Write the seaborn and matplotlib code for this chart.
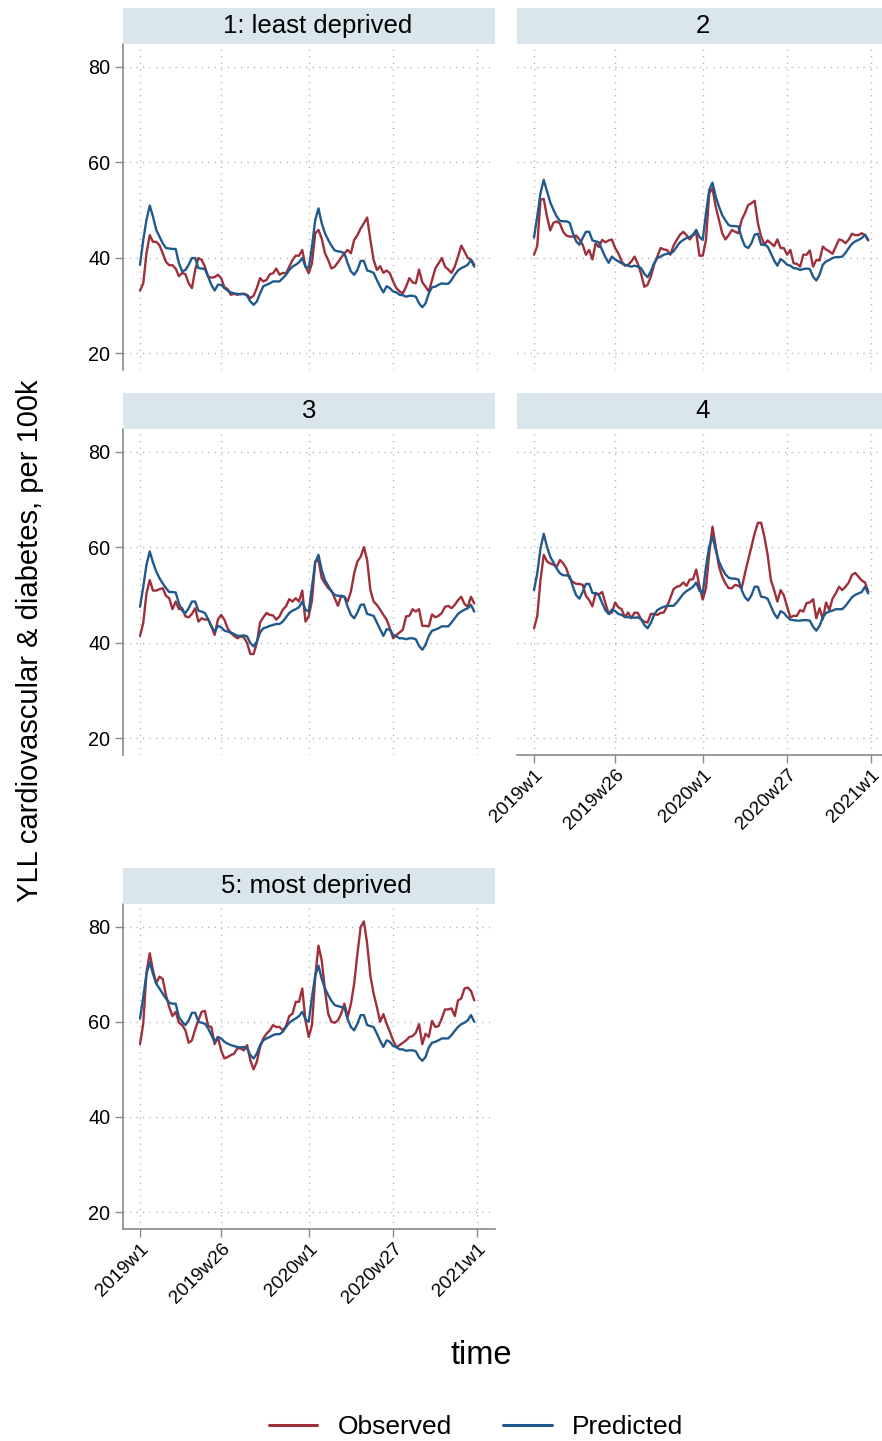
import matplotlib
matplotlib.use("Agg")

import numpy as np
import pandas as pd
import matplotlib.pyplot as plt
import seaborn as sns
from matplotlib.lines import Line2D

# weekly index: 0 = 2019w1 ... 103 = 2020w52
weeks = list(range(104))
tick_pos = [0, 25, 52, 78, 104]
tick_labels = ["2019w1", "2019w26", "2020w1", "2020w27", "2021w1"]
panel_titles = ["1: least deprived", "2", "3", "4", "5: most deprived"]

p1_obs = [33.1, 34.6, 40.9, 44.7, 43.3, 43.3, 42.6, 40.9, 39.1, 38.4,
          38.4, 37.7, 36.1, 36.8, 36.5, 34.6, 33.6, 37.4, 39.9, 39.5,
          38.1, 36.0, 35.8, 35.9, 36.4, 35.7, 33.8, 33.4, 32.2, 32.4,
          32.2, 32.4, 32.4, 32.2, 31.5, 32.0, 33.6, 35.7, 35.0, 35.3,
          36.5, 36.7, 37.7, 36.4, 36.8, 36.7, 38.1, 39.5, 40.4, 40.4,
          41.6, 38.1, 36.7, 38.8, 45.1, 45.8, 44.0, 40.9, 39.5, 37.7,
          38.1, 39.0, 40.0, 40.9, 41.6, 40.9, 43.7, 44.7, 46.1, 47.2,
          48.4, 43.7, 39.5, 37.4, 38.2, 36.8, 37.3, 36.7, 35.0, 33.6,
          32.9, 32.5, 33.9, 35.7, 34.8, 34.6, 37.5, 34.8, 33.9, 32.9,
          35.3, 37.7, 38.8, 39.9, 38.1, 37.5, 36.8, 38.1, 40.2, 42.5,
          41.3, 39.9, 39.6, 38.5]
p1_pred = [38.5, 43.7, 47.9, 50.9, 48.6, 45.8, 44.4, 43.0, 42.0, 41.9,
           41.8, 41.8, 38.8, 37.1, 37.4, 38.5, 39.9, 39.9, 37.8, 37.7,
           37.6, 36.0, 34.3, 33.1, 34.3, 34.3, 33.6, 33.1, 32.7, 32.5,
           32.4, 32.3, 32.4, 32.0, 30.8, 30.1, 30.8, 32.5, 34.0, 34.3,
           34.6, 35.0, 35.0, 35.0, 35.7, 36.4, 37.4, 38.1, 38.5, 39.0,
           39.9, 38.1, 37.8, 42.3, 47.9, 50.3, 47.2, 45.1, 43.7, 42.5,
           41.5, 41.3, 41.2, 40.9, 38.8, 37.1, 36.4, 37.4, 39.3, 39.3,
           37.3, 37.1, 36.8, 35.3, 33.9, 32.7, 34.0, 33.6, 32.9, 32.7,
           32.2, 32.1, 31.8, 32.0, 32.0, 31.8, 30.4, 29.6, 30.4, 32.5,
           33.8, 33.9, 34.3, 34.6, 34.5, 34.5, 35.3, 36.4, 37.3, 37.8,
           38.1, 38.5, 39.5, 38.1]

p2_obs = [40.6, 42.4, 52.1, 52.3, 48.6, 45.7, 47.3, 47.6, 47.1, 45.4,
          44.6, 44.4, 44.4, 44.6, 43.8, 42.7, 40.6, 41.6, 39.6, 43.0,
          42.2, 43.7, 43.2, 43.6, 43.8, 42.0, 40.9, 39.2, 38.3, 38.5,
          39.2, 40.2, 38.7, 36.6, 33.9, 34.3, 36.0, 38.5, 40.2, 42.0,
          41.7, 41.6, 40.6, 42.5, 43.7, 44.8, 45.4, 44.7, 43.8, 44.7,
          45.1, 40.4, 40.4, 43.7, 53.5, 54.5, 50.7, 47.9, 45.1, 43.8,
          44.7, 45.8, 45.4, 45.1, 47.9, 49.3, 51.0, 51.4, 51.9, 47.2,
          44.4, 42.7, 43.6, 43.0, 42.4, 43.8, 42.0, 42.0, 40.6, 41.6,
          38.8, 38.7, 38.1, 40.6, 40.6, 41.5, 38.1, 39.5, 39.4, 42.3,
          41.7, 41.3, 40.8, 42.3, 43.8, 43.6, 43.0, 43.8, 45.0, 44.7,
          44.7, 45.1, 44.7, 43.6]
p2_pred = [44.2, 48.6, 53.5, 56.3, 53.9, 51.6, 50.0, 48.6, 47.7, 47.6,
           47.6, 47.3, 45.1, 43.4, 42.7, 44.1, 45.4, 45.4, 43.6, 43.4,
           43.2, 41.6, 40.1, 38.9, 40.2, 39.6, 39.2, 38.8, 38.5, 38.3,
           38.1, 38.3, 38.1, 37.8, 36.6, 35.9, 37.1, 38.8, 39.9, 40.2,
           40.6, 40.8, 40.8, 41.3, 42.3, 43.2, 43.7, 44.1, 44.3, 44.8,
           45.8, 44.3, 43.7, 49.3, 54.2, 55.7, 52.8, 50.7, 48.9, 47.8,
           46.8, 46.6, 46.6, 46.5, 44.1, 42.4, 42.0, 43.0, 44.8, 45.0,
           42.7, 42.7, 42.3, 40.9, 39.4, 38.3, 39.7, 39.2, 38.5, 38.3,
           37.8, 37.7, 37.4, 37.6, 37.7, 37.6, 36.0, 35.2, 36.4, 38.5,
           39.2, 39.5, 39.9, 40.1, 40.1, 40.2, 41.0, 42.0, 42.9, 43.4,
           43.7, 44.1, 44.8, 43.7]

p3_obs = [41.4, 44.1, 50.3, 53.1, 50.9, 50.9, 51.2, 51.4, 49.8, 49.3,
          47.0, 48.6, 47.0, 47.2, 45.5, 45.3, 46.0, 47.2, 44.4, 45.1,
          44.8, 44.9, 43.4, 41.6, 44.8, 45.8, 44.8, 43.0, 42.0, 41.4,
          40.9, 41.3, 41.1, 39.9, 37.6, 37.6, 39.9, 44.2, 45.3, 46.2,
          45.8, 45.7, 44.8, 45.5, 46.9, 47.6, 49.1, 48.6, 49.3, 48.6,
          50.9, 44.4, 45.5, 48.9, 57.0, 57.3, 53.5, 52.4, 51.4, 50.9,
          49.3, 47.7, 49.8, 49.6, 48.6, 50.7, 54.5, 57.0, 58.0, 60.0,
          57.3, 51.0, 48.6, 47.9, 46.9, 45.8, 44.8, 43.0, 40.9, 41.6,
          42.1, 42.7, 45.5, 45.6, 47.0, 46.5, 47.0, 43.5, 43.5, 43.4,
          45.9, 45.3, 45.6, 46.2, 47.5, 47.7, 47.2, 47.9, 48.9, 49.6,
          48.1, 47.5, 49.6, 48.2]
p3_pred = [47.5, 51.7, 56.3, 59.1, 56.8, 54.9, 53.5, 52.4, 51.4, 50.6,
           50.6, 50.5, 48.2, 46.7, 46.2, 47.2, 48.6, 48.6, 46.7, 46.5,
           46.2, 44.9, 43.4, 42.3, 43.5, 43.2, 42.5, 42.3, 42.1, 41.8,
           41.4, 41.4, 41.5, 41.3, 39.9, 39.2, 40.2, 42.1, 43.0, 43.2,
           43.5, 43.7, 43.9, 43.9, 44.4, 45.3, 46.2, 46.7, 47.0, 47.4,
           48.6, 46.9, 46.5, 51.7, 56.8, 58.4, 55.2, 53.1, 51.9, 50.7,
           50.0, 49.8, 49.8, 49.6, 47.5, 45.8, 45.1, 46.3, 47.9, 48.0,
           46.0, 45.8, 45.6, 44.2, 42.8, 41.4, 42.8, 42.7, 41.6, 41.3,
           40.9, 40.9, 40.7, 40.9, 40.9, 40.7, 39.3, 38.5, 39.5, 41.4,
           42.5, 42.7, 43.0, 43.4, 43.4, 43.4, 44.2, 45.1, 46.0, 46.5,
           46.9, 47.2, 47.9, 46.5]

p4_obs = [43.0, 45.5, 53.1, 58.4, 57.0, 56.6, 56.3, 55.9, 57.3, 56.6,
          55.5, 53.4, 52.7, 52.3, 52.3, 52.1, 49.8, 48.9, 47.6, 50.4,
          50.1, 50.6, 48.3, 46.0, 46.3, 48.4, 47.4, 47.0, 45.3, 46.3,
          45.1, 46.3, 46.2, 44.9, 44.4, 44.2, 46.0, 46.0, 45.8, 46.2,
          46.3, 47.6, 49.3, 51.2, 51.7, 51.9, 52.6, 51.9, 53.2, 53.3,
          55.3, 51.8, 49.0, 51.4, 58.7, 64.3, 60.1, 55.9, 53.8, 52.4,
          51.4, 51.4, 52.1, 51.9, 51.4, 54.5, 57.3, 60.1, 62.9, 65.1,
          65.1, 62.2, 58.4, 53.1, 51.0, 48.6, 51.0, 49.9, 47.5, 45.3,
          45.6, 45.6, 46.8, 46.5, 48.3, 48.4, 49.1, 45.1, 47.2, 44.9,
          48.4, 46.8, 49.2, 50.3, 51.7, 51.0, 51.7, 52.6, 54.2, 54.6,
          53.8, 53.0, 52.6, 50.7]
p4_pred = [51.0, 54.5, 59.7, 62.8, 60.1, 58.0, 56.8, 55.5, 54.5, 54.1,
           54.1, 53.9, 51.7, 49.9, 49.2, 50.6, 52.3, 52.3, 50.4, 50.3,
           49.9, 48.3, 46.8, 46.0, 46.9, 46.6, 46.0, 45.8, 45.4, 45.3,
           45.3, 45.2, 45.3, 44.9, 43.7, 43.0, 44.1, 45.8, 46.8, 47.2,
           47.5, 47.7, 47.7, 47.7, 48.4, 49.3, 50.2, 50.8, 51.2, 51.7,
           52.6, 50.9, 50.3, 55.9, 60.1, 62.2, 59.4, 57.0, 55.5, 54.3,
           53.6, 53.4, 53.4, 53.2, 51.0, 49.5, 48.8, 49.9, 51.7, 51.7,
           49.6, 49.5, 49.2, 47.6, 46.1, 45.1, 46.6, 46.2, 45.4, 44.8,
           44.7, 44.6, 44.6, 44.7, 44.7, 44.6, 43.3, 42.5, 43.5, 45.3,
           46.2, 46.5, 46.7, 47.0, 47.0, 47.0, 47.7, 48.6, 49.5, 50.0,
           50.3, 50.6, 51.7, 50.3]

p5_obs = [55.3, 59.6, 70.4, 74.4, 70.8, 68.1, 69.5, 69.0, 65.6, 63.1,
          61.2, 62.1, 59.8, 59.3, 58.2, 55.6, 56.1, 58.4, 60.3, 62.1,
          62.3, 59.1, 58.9, 55.3, 56.8, 54.0, 52.3, 52.6, 53.0, 53.3,
          54.4, 54.4, 54.0, 55.1, 51.9, 50.0, 51.6, 54.7, 56.5, 57.5,
          58.2, 59.3, 58.9, 58.9, 58.2, 59.1, 61.2, 61.7, 64.2, 64.2,
          67.0, 60.3, 56.8, 59.3, 69.4, 76.0, 72.9, 66.6, 61.7, 60.0,
          59.8, 60.3, 61.7, 63.8, 61.0, 63.8, 68.0, 74.3, 79.9, 81.1,
          76.4, 69.7, 65.9, 63.1, 60.0, 61.6, 59.6, 57.9, 56.1, 54.6,
          55.1, 55.6, 56.1, 56.8, 57.0, 57.7, 59.5, 55.3, 57.5, 56.8,
          60.2, 58.9, 59.1, 60.7, 62.6, 62.6, 62.8, 61.2, 64.5, 64.9,
          67.0, 67.2, 66.5, 64.5]
p5_pred = [60.7, 65.2, 70.1, 72.5, 70.1, 68.0, 67.0, 65.9, 64.9, 64.0,
           63.8, 63.8, 61.0, 60.0, 59.3, 60.3, 61.9, 61.9, 60.0, 59.8,
           59.6, 58.6, 57.2, 55.8, 56.8, 56.5, 55.8, 55.4, 55.1, 54.9,
           54.7, 54.6, 54.7, 54.4, 53.0, 52.3, 53.3, 55.1, 56.1, 56.5,
           56.8, 57.2, 57.4, 57.4, 57.9, 58.9, 59.8, 60.3, 60.7, 61.2,
           62.1, 60.5, 60.0, 65.2, 69.7, 71.8, 69.0, 67.0, 65.6, 64.4,
           63.5, 63.3, 63.1, 63.0, 60.5, 58.9, 58.2, 59.6, 61.4, 61.4,
           59.3, 59.1, 58.9, 57.5, 56.0, 54.7, 56.1, 55.8, 54.9, 54.7,
           54.2, 54.2, 53.9, 54.0, 54.0, 53.8, 52.5, 51.8, 52.6, 54.6,
           55.6, 55.8, 56.1, 56.5, 56.5, 56.5, 57.2, 58.1, 58.9, 59.5,
           59.8, 60.3, 61.4, 60.0]

observed = [p1_obs, p2_obs, p3_obs, p4_obs, p5_obs]
predicted = [p1_pred, p2_pred, p3_pred, p4_pred, p5_pred]

frames = []
for title, obs, pred in zip(panel_titles, observed, predicted):
    frames.append(pd.DataFrame({"panel": title, "week": weeks,
                                "series": "Observed", "yll": obs}))
    frames.append(pd.DataFrame({"panel": title, "week": weeks,
                                "series": "Predicted", "yll": pred}))
df = pd.concat(frames, ignore_index=True)

RED = "#9e2f3b"
BLUE = "#205a8c"
palette = {"Observed": RED, "Predicted": BLUE}
STRIP = "#d9e6eb"
AXC = "#8a8a8a"

sns.set_theme(style="white")
plt.rcParams["font.family"] = ["Liberation Sans", "DejaVu Sans"]
plt.rcParams["text.color"] = "black"

W, H = 882, 1441
fig = plt.figure(figsize=(W / 100, H / 100), dpi=100)
fig.patch.set_facecolor("white")

col_left = [123, 517]
rows = [(8, 44, 370), (393, 429, 755), (868, 904, 1229)]
pw = 372
title_shift = [8.5, 0, 0, 0, 7.5]  # px, strip text is a bit right of centre

for k, title in enumerate(panel_titles):
    r, c = divmod(k, 2)
    s_top, p_top, p_bot = rows[r]
    left = col_left[c]

    ax = fig.add_axes([left / W, 1 - p_bot / H, pw / W, (p_bot - p_top) / H])
    sub = df[df["panel"] == title]
    sns.lineplot(data=sub, x="week", y="yll", hue="series",
                 hue_order=["Observed", "Predicted"], palette=palette,
                 linewidth=1.7, ax=ax, legend=False)

    ax.set_xlim(-5.24, 109.4)
    ax.set_ylim(16.44, 84.76)
    ax.set_xticks(tick_pos)
    ax.set_yticks([20, 40, 60, 80])
    ax.set_xlabel("")
    ax.set_ylabel("")
    ax.grid(True, linestyle=(0, (0.8, 3.9)), color="#aaaaaa", linewidth=1.0)
    ax.set_axisbelow(True)

    for side in ["top", "right"]:
        ax.spines[side].set_visible(False)
    ax.spines["left"].set_visible(c == 0)
    ax.spines["bottom"].set_visible(k in (3, 4))
    for side in ["left", "bottom"]:
        ax.spines[side].set_color(AXC)
        ax.spines[side].set_linewidth(1.2)

    ax.tick_params(axis="y", left=(c == 0), labelleft=(c == 0),
                   length=6, width=1, color=AXC, labelcolor="black",
                   pad=3, labelsize=14.3)
    show_x = k in (3, 4)
    ax.tick_params(axis="x", bottom=show_x, labelbottom=show_x,
                   length=6, width=1, color=AXC, labelcolor="black",
                   pad=2, labelsize=13.7)
    ax.set_xticklabels(tick_labels)
    if show_x:
        for lab in ax.get_xticklabels():
            lab.set_rotation(45)
            lab.set_ha("right")
            lab.set_va("top")
            lab.set_rotation_mode("anchor")

    sax = fig.add_axes([left / W, 1 - p_top / H, pw / W, (p_top - s_top) / H])
    sax.set_facecolor(STRIP)
    sax.set_xticks([])
    sax.set_yticks([])
    for sp in sax.spines.values():
        sp.set_visible(False)
    sax.text(0.5 + title_shift[k] / pw, 0.5, title, ha="center", va="center",
             fontsize=18.5, color="black", transform=sax.transAxes)

fig.text(30 / W, 1 - 641 / H, "YLL cardiovascular & diabetes, per 100k",
         rotation=90, ha="center", va="center", fontsize=21, color="black")
fig.text(481 / W, 1 - 1355 / H, "time", ha="center", va="center",
         fontsize=23.5, color="black")

handles = [Line2D([], [], color=RED, lw=2.2), Line2D([], [], color=BLUE, lw=2.2)]
fig.legend(handles, ["Observed", "Predicted"], loc="center",
           bbox_to_anchor=(476 / W, 1 - 1427 / H), ncol=2, frameon=False,
           fontsize=19, handlelength=1.82, handletextpad=0.76,
           columnspacing=1.97, labelcolor="black")

fig.savefig("out.png", dpi=100, facecolor="white")
plt.close(fig)
